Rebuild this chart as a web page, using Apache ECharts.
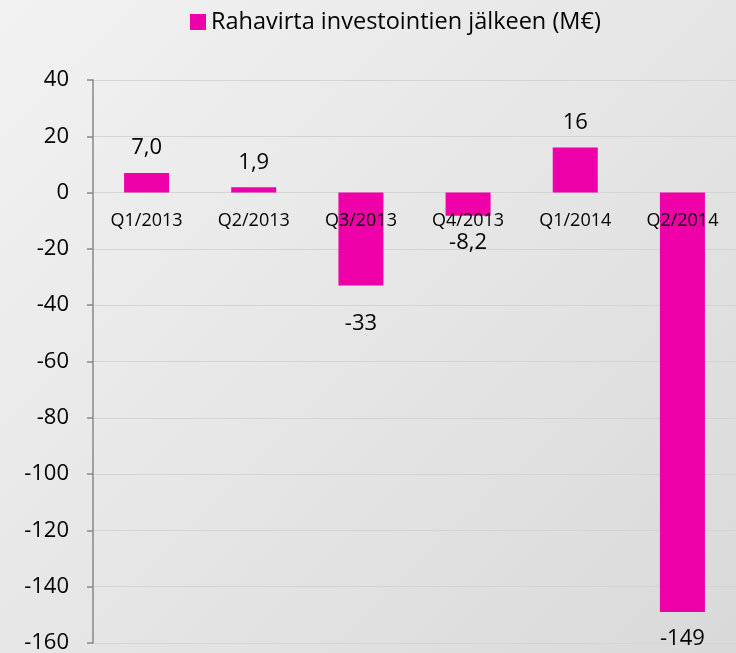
<!DOCTYPE html>
<html><head><meta charset="utf-8">
<script src="https://cdn.jsdelivr.net/npm/echarts@6/dist/echarts.min.js"></script>
<style>html,body{margin:0;padding:0;}#c{width:736px;height:653px;background:linear-gradient(135deg,#f2f2f2 0%,#e6e6e6 50%,#d9d9d9 100%);}</style>
</head><body><div id="c"></div>
<script>
const categories = ['Q1/2013','Q2/2013','Q3/2013','Q4/2013','Q1/2014','Q2/2014'];
const values = [7.0, 1.9, -33, -8.2, 16, -149];
const valueLabels = ['7,0','1,9','-33','-8,2','16','-149'];
const labelDistances = [14, 14, 27, 16, 14, 16];
const seriesName = 'Rahavirta investointien jälkeen (M€)';
const yTicks = {min: -160, max: 40, interval: 20};
const FONT = 'Open Sans';
const chart = echarts.init(document.getElementById('c'));
chart.setOption({
  backgroundColor: 'transparent',
  textStyle: {fontFamily: FONT},
  legend: {
    top: 5, left: 185, itemWidth: 16, itemHeight: 16, itemGap: 5,
    icon: 'rect',
    textStyle: {fontSize: 23.5, color: '#000', fontFamily: FONT},
    data: [seriesName]
  },
  grid: {left: 93, right: 0, top: 80, bottom: 10, containLabel: false, outerBoundsMode: 'none'},
  xAxis: {
    type: 'category', data: categories,
    axisLine: {show: false},
    axisTick: {show: false},
    axisLabel: {show: false}
  },
  yAxis: {
    type: 'value', min: yTicks.min, max: yTicks.max, interval: yTicks.interval,
    axisLine: {show: true, lineStyle: {color: '#888', width: 1.5}},
    axisTick: {show: true, length: 6, lineStyle: {color: '#888', width: 1.5}},
    axisLabel: {fontSize: 22, color: '#000', margin: 24, fontFamily: FONT},
    splitLine: {show: true, lineStyle: {color: '#d4d4d4', width: 1}}
  },
  series: [{
    name: seriesName, type: 'bar', barWidth: '42%',
    itemStyle: {color: '#ee00a9'},
    data: values.map((v, i) => ({
      value: v,
      label: {
        show: true,
        position: v >= 0 ? 'top' : 'bottom',
        distance: labelDistances[i],
        formatter: valueLabels[i],
        fontSize: 22, color: '#000', fontFamily: FONT
      }
    }))
  }, {
    name: 'categoryLabels', type: 'scatter', symbolSize: 1, silent: true, z: 5,
    itemStyle: {color: 'rgba(0,0,0,0)', opacity: 1},
    emphasis: {disabled: true},
    data: categories.map(c => [c, 0]),
    label: {
      show: true, position: 'bottom', distance: 19,
      formatter: p => p.value[0],
      fontSize: 18, color: '#000', opacity: 1, fontFamily: FONT
    }
  }]
});
</script></body></html>
